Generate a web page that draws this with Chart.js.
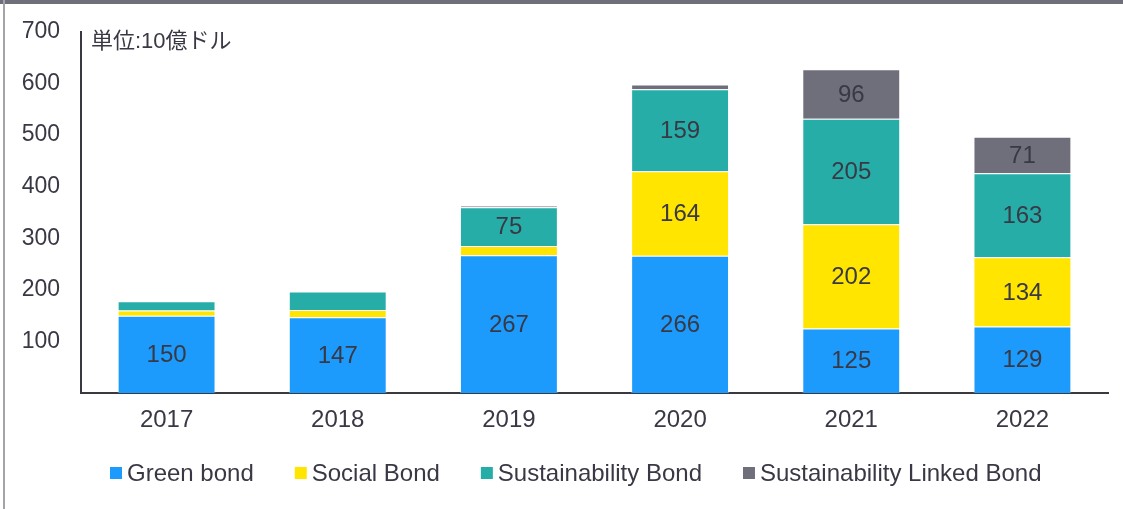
<!DOCTYPE html>
<html>
<head>
<meta charset="utf-8">
<script src="https://cdn.jsdelivr.net/npm/chart.js@4.4.1/dist/chart.umd.min.js"></script>
<style>
  html, body { margin: 0; padding: 0; background: #fff; overflow: hidden; }
  #wrap { width: 1123px; height: 509px; position: relative; }
</style>
</head>
<body>
<div id="wrap"><canvas id="c" width="1123" height="509"></canvas></div>
<script>
// Annual issuance by bond type (billion USD)
const years = ['2017', '2018', '2019', '2020', '2021', '2022'];
const greenBond = [150, 147, 267, 266, 125, 129];
const socialBond = [10, 14, 18, 164, 202, 134];
const sustainabilityBond = [18, 36, 75, 159, 205, 163];
const sustainabilityLinkedBond = [0, 0, 3, 9, 96, 71];

const seriesNames = ['Green bond', 'Social Bond', 'Sustainability Bond', 'Sustainability Linked Bond'];
const seriesColors = ['#1C9BFC', '#FFE500', '#27ADA8', '#6F6E7B'];
const yTicks = [100, 200, 300, 400, 500, 600, 700];
const unitLabel = '単位:10億ドル';

const textColor = '#393945';
const axisColor = '#393942';
const latinFont = "'Liberation Sans', Arial, 'Noto Sans CJK JP', sans-serif";

// Page frame: dark band along the top, thin grey rule on the left
const framePlugin = {
  id: 'frame',
  beforeDraw(chart) {
    const ctx = chart.ctx;
    ctx.save();
    ctx.fillStyle = '#fff';
    ctx.fillRect(0, 0, chart.width, chart.height);
    ctx.fillStyle = '#6F6E7B';
    ctx.fillRect(0, 0, chart.width, 4);
    ctx.fillStyle = '#A3A3AC';
    ctx.fillRect(3, 0, 2, chart.height);
    ctx.restore();
  }
};

// Value labels centred inside each segment that is tall enough
const valueLabelPlugin = {
  id: 'valueLabels',
  afterDatasetsDraw(chart) {
    const ctx = chart.ctx;
    ctx.save();
    ctx.font = '24px ' + latinFont;
    ctx.fillStyle = textColor;
    ctx.textAlign = 'center';
    ctx.textBaseline = 'middle';
    chart.data.datasets.forEach((ds, di) => {
      const meta = chart.getDatasetMeta(di);
      meta.data.forEach((bar, i) => {
        const v = ds.data[i];
        if (v < 50) return;
        ctx.fillText(String(v), bar.x, (bar.y + bar.base) / 2 + 1);
      });
    });
    ctx.restore();
  }
};

// Unit caption and bottom legend
const captionLegendPlugin = {
  id: 'captionLegend',
  afterDraw(chart) {
    const ctx = chart.ctx;
    ctx.save();
    ctx.fillStyle = textColor;
    ctx.font = '22px ' + latinFont;
    ctx.textAlign = 'left';
    ctx.textBaseline = 'middle';
    ctx.fillText(unitLabel, 91, 42);

    ctx.font = '24px ' + latinFont;
    ctx.textBaseline = 'alphabetic';
    let x = 110;
    const box = 12, gap = 5, itemGap = 41;
    chart.data.datasets.forEach((ds) => {
      ctx.fillStyle = ds.backgroundColor;
      ctx.fillRect(x, 467, box, box);
      x += box + gap;
      ctx.fillStyle = textColor;
      ctx.fillText(ds.label, x, 481);
      x += ctx.measureText(ds.label).width + itemGap;
    });
    ctx.restore();
  }
};

const seriesData = [greenBond, socialBond, sustainabilityBond, sustainabilityLinkedBond];

new Chart(document.getElementById('c'), {
  type: 'bar',
  data: {
    labels: years,
    datasets: seriesData.map((d, i) => ({
      label: seriesNames[i],
      data: d,
      backgroundColor: seriesColors[i],
      borderColor: 'rgba(255,255,255,0.35)',
      borderWidth: 1,
      barPercentage: 0.572,
      categoryPercentage: 1
    }))
  },
  options: {
    responsive: false,
    animation: false,
    layout: { padding: { top: 32, right: 15, bottom: 60, left: 0 } },
    plugins: {
      legend: { display: false },
      tooltip: { enabled: false }
    },
    scales: {
      x: {
        stacked: true,
        grid: { display: false, drawTicks: false },
        border: { display: true, color: axisColor, width: 2 },
        ticks: { color: textColor, font: { family: latinFont, size: 24 }, padding: 13 },
        afterFit(s) { s.height = 56; s.paddingLeft = 0; s.paddingRight = 0; }
      },
      y: {
        stacked: true,
        min: 0,
        max: 700,
        afterBuildTicks(s) { s.ticks = yTicks.map(v => ({ value: v })); },
        grid: { display: false, drawTicks: false },
        border: { display: true, color: axisColor, width: 2 },
        ticks: { color: textColor, font: { family: latinFont, size: 23 }, padding: 21 },
        afterFit(s) { s.width = 81; s.paddingTop = 0; s.paddingBottom = 0; }
      }
    }
  },
  plugins: [framePlugin, valueLabelPlugin, captionLegendPlugin]
});
</script>
</body>
</html>
